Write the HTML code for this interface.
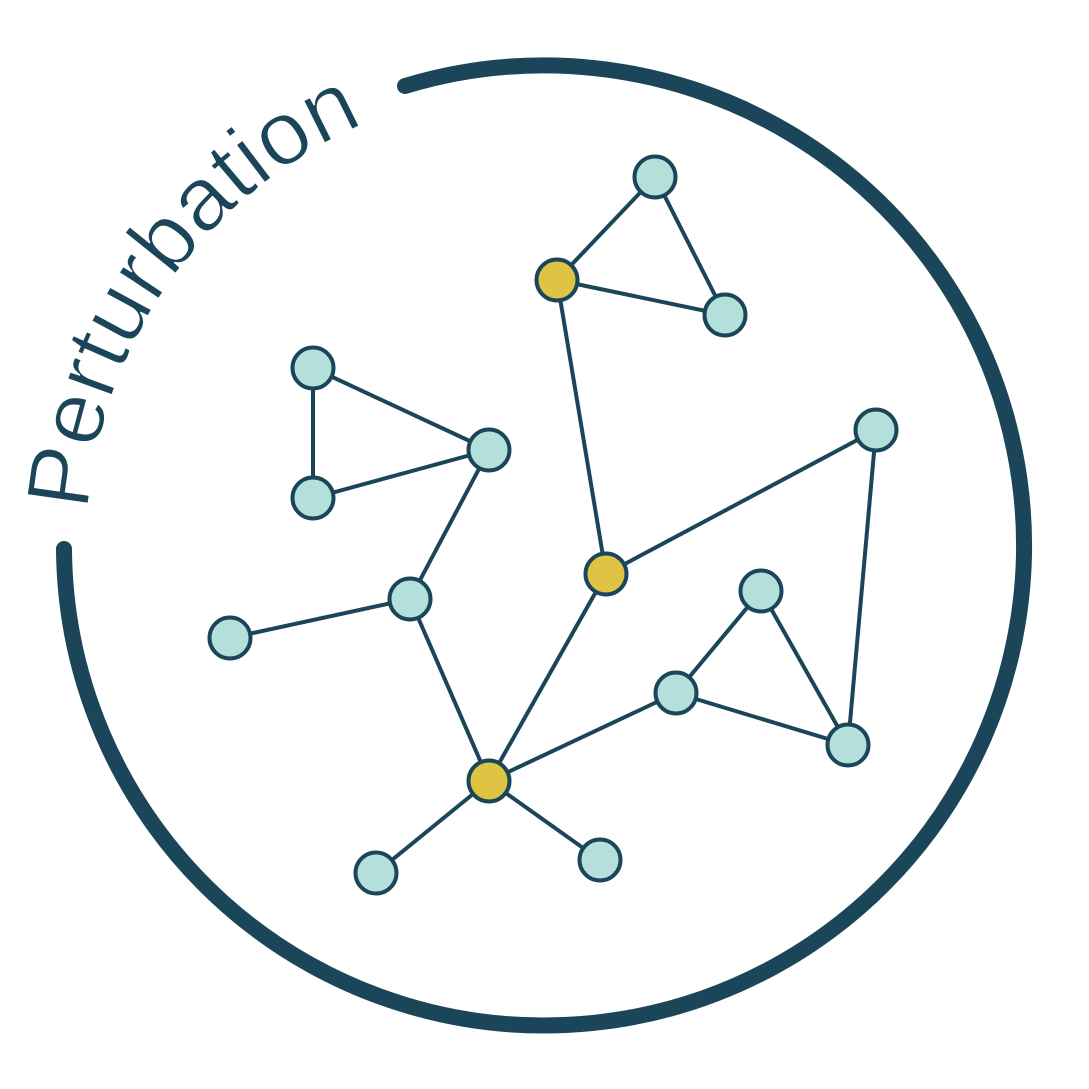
<!DOCTYPE html>
<html><head><meta charset="utf-8"><style>
html,body{margin:0;padding:0;background:#fff;}
svg{display:block;}
</style></head><body>
<svg id="chart" width="1089" height="1089" viewBox="0 0 1089 1089" xmlns="http://www.w3.org/2000/svg">
<defs>
<path id="textArc" d="M87,545 A458,458 0 0 1 465.5,94"/>
</defs>
<path d="M405,86 A480,480 0 1 1 64,549" fill="none" stroke="#1b4659" stroke-width="16" stroke-linecap="round"/>
<text font-family="Liberation Sans, sans-serif" font-size="90" fill="#1b4659" stroke="#fff" stroke-width="1.5"><textPath href="#textArc" startOffset="34" textLength="500" lengthAdjust="spacingAndGlyphs">Perturbation</textPath></text>
<g id="edges"></g>
<g id="nodes"></g>
</svg>
<script>
const nodeX = [655,725,313,313,489,410,230,876,761,676,848,376,600,557,606,489];
const nodeY = [177,315,368,498,450,599,638,430,591,693,745,873,860,280,574,781];
const nodeType = ['t','t','t','t','t','t','t','t','t','t','t','t','t','y','y','y'];
const edgeFrom = [13,0,13,13,2,2,3,4,5,5,14,14,7,15,9,8,9,15,15];
const edgeTo   = [0,1,1,14,3,4,4,5,6,15,7,15,10,9,8,10,10,11,12];
const NS='http://www.w3.org/2000/svg';
const eg=document.getElementById('edges'), ng=document.getElementById('nodes');
for(let i=0;i<edgeFrom.length;i++){
  const a=edgeFrom[i], b=edgeTo[i];
  const l=document.createElementNS(NS,'line');
  l.setAttribute('x1',nodeX[a]);l.setAttribute('y1',nodeY[a]);
  l.setAttribute('x2',nodeX[b]);l.setAttribute('y2',nodeY[b]);
  l.setAttribute('stroke','#1b4659');l.setAttribute('stroke-width','4');
  
  
  eg.appendChild(l);
}
for(let i=0;i<nodeX.length;i++){
  const c=document.createElementNS(NS,'circle');
  c.setAttribute('cx',nodeX[i]);c.setAttribute('cy',nodeY[i]);c.setAttribute('r','20.5');
  c.setAttribute('fill',nodeType[i]==='y'?'#dfc443':'#b3e0da');
  c.setAttribute('stroke','#1b4659');c.setAttribute('stroke-width','4');
  
  
  ng.appendChild(c);
}
</script>
</body></html>
